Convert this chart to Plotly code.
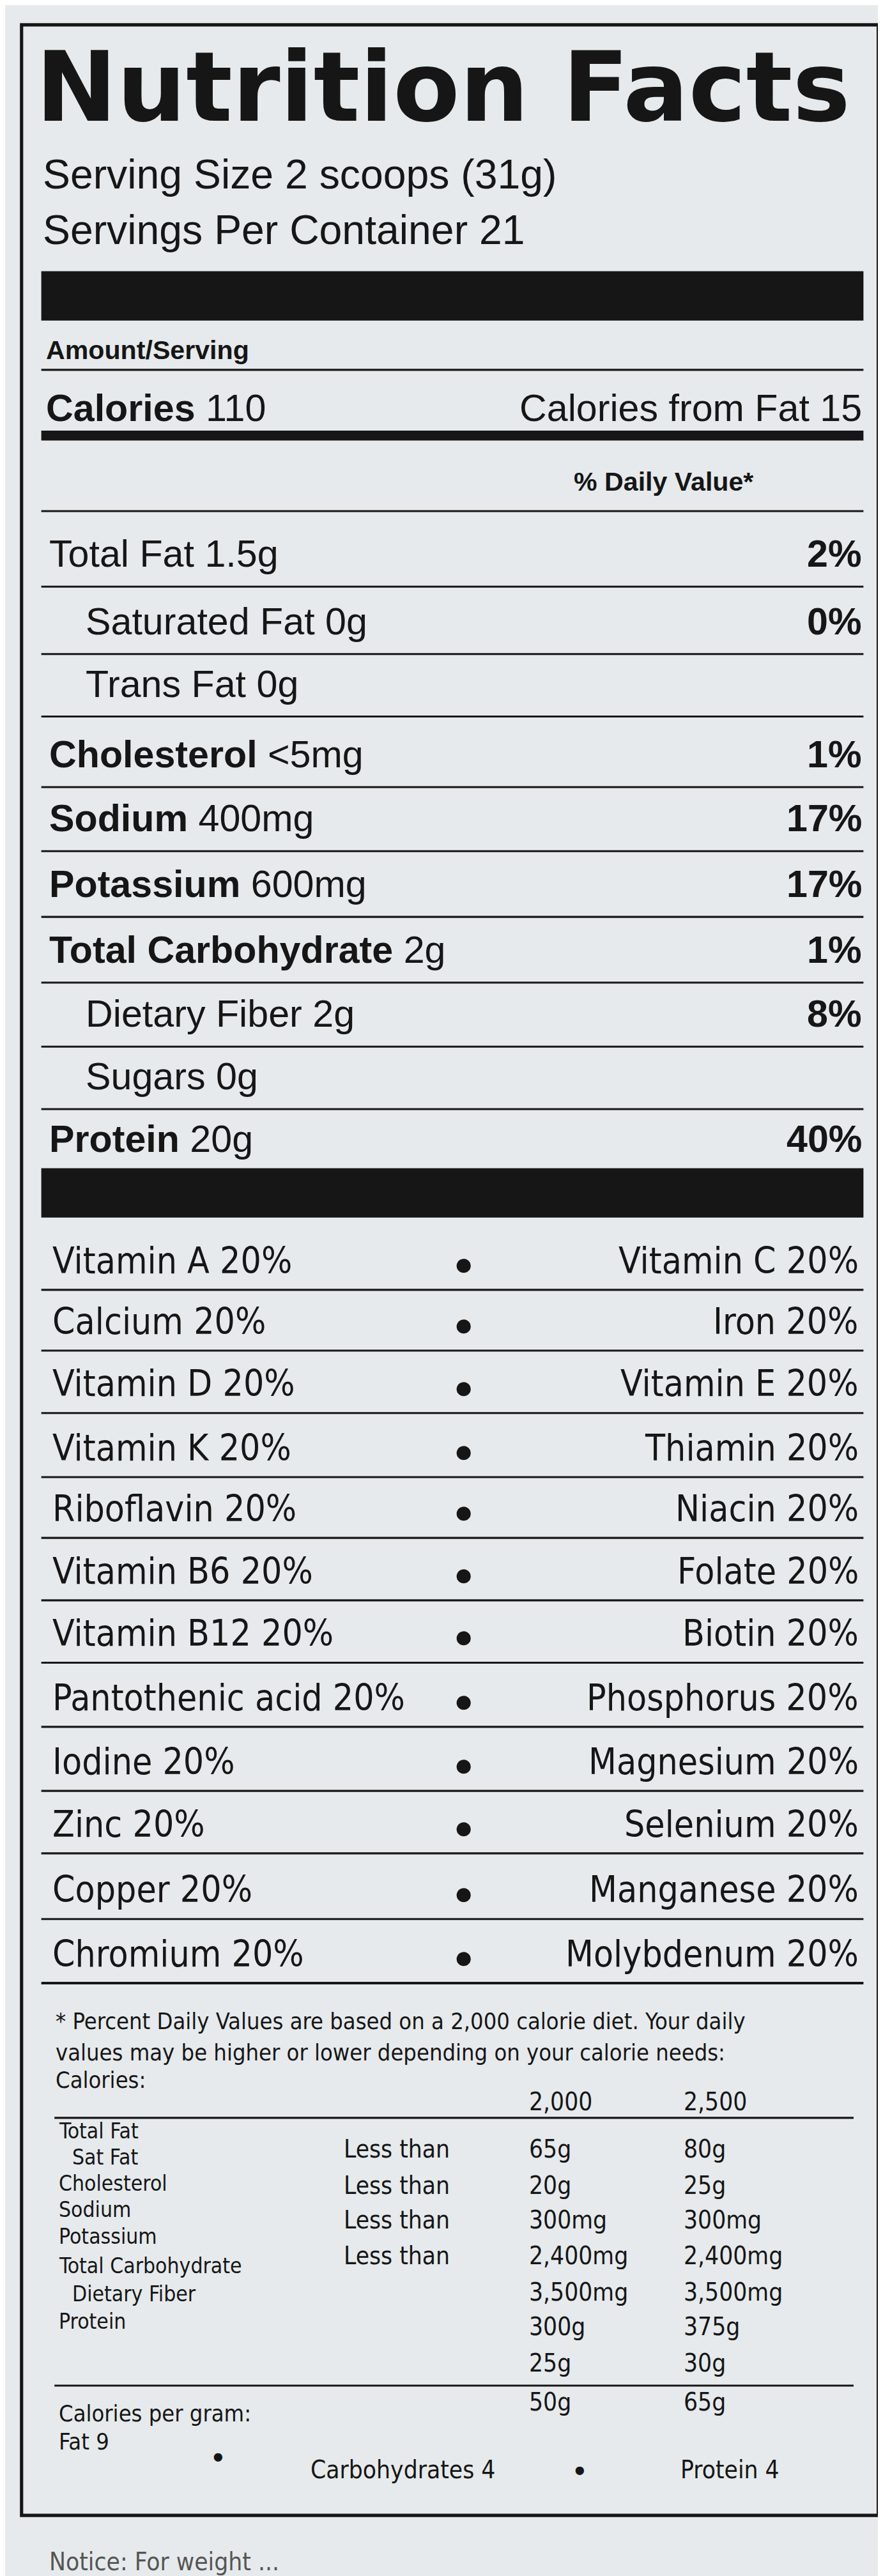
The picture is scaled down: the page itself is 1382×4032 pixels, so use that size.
import plotly.graph_objects as go

# work in the coordinates of a 537 x 1568 picture, scaled up to 1382 x 4032
W, H = 537, 1568
S = 1382 / W

serving_lines = ["Serving Size 2 scoops (31g)", "Servings Per Container 21"]

nutrients = ["Total Fat", "Saturated Fat", "Trans Fat", "Cholesterol", "Sodium",
             "Potassium", "Total Carbohydrate", "Dietary Fiber", "Sugars", "Protein"]
amounts = ["1.5g", "0g", "0g", "<5mg", "400mg", "600mg", "2g", "2g", "0g", "20g"]
daily_pct = ["2%", "0%", "", "1%", "17%", "17%", "1%", "8%", "", "40%"]
bold_nutrient = [False, False, False, True, True, True, True, False, False, True]
indented = [False, True, True, False, False, False, False, True, True, False]

vit_left = ["Vitamin A 20%", "Calcium 20%", "Vitamin D 20%", "Vitamin K 20%", "Riboflavin 20%",
            "Vitamin B6 20%", "Vitamin B12 20%", "Pantothenic acid 20%", "Iodine 20%",
            "Zinc 20%", "Copper 20%", "Chromium 20%"]
vit_right = ["Vitamin C 20%", "Iron 20%", "Vitamin E 20%", "Thiamin 20%", "Niacin 20%",
             "Folate 20%", "Biotin 20%", "Phosphorus 20%", "Magnesium 20%",
             "Selenium 20%", "Manganese 20%", "Molybdenum 20%"]

foot_labels = ["Total Fat", "Sat Fat", "Cholesterol", "Sodium", "Potassium",
               "Total Carbohydrate", "Dietary Fiber", "Protein"]
foot_less = ["Less than", "Less than", "Less than", "Less than"]
col_2000 = ["65g", "20g", "300mg", "2,400mg", "3,500mg", "300g", "25g", "50g"]
col_2500 = ["80g", "25g", "300mg", "2,400mg", "3,500mg", "375g", "30g", "65g"]

INK = "#161616"
FONT = "Liberation Sans"
NARROW = "DejaVu Sans Condensed, Liberation Sans"

fig = go.Figure()
ann = []
shapes = []


def text(x, y, s, size, anchor="left", bold=False, family=FONT, color=INK):
    if bold:
        s = "<b>" + s + "</b>"
    ann.append(dict(x=x, y=y, xref="x", yref="y", text=s, showarrow=False,
                    xanchor=anchor, yanchor="middle",
                    font=dict(size=size * S, family=family, color=color)))


def hline(y, w=1.2, x0=22, x1=522):
    shapes.append(dict(type="line", xref="x", yref="y", x0=x0, x1=x1, y0=y, y1=y,
                       line=dict(color=INK, width=w * S)))


def bar(y0, y1, x0=22, x1=522):
    shapes.append(dict(type="rect", xref="x", yref="y", x0=x0, x1=x1, y0=y0, y1=y1,
                       fillcolor=INK, line=dict(width=0)))


# outer frame
shapes.append(dict(type="rect", xref="x", yref="y", x0=10, x1=531, y0=12, y1=1528,
                   line=dict(color=INK, width=2 * S), fillcolor="rgba(0,0,0,0)"))

text(18, 50, "Nutrition Facts", 59, bold=True, family="DejaVu Sans")
text(22, 103, serving_lines[0], 25)
text(22, 137, serving_lines[1], 25)
bar(162, 192)
text(24, 210, "Amount/Serving", 16, bold=True)
hline(222)
text(24, 245, "<b>Calories</b> 110", 23)
text(522, 245, "Calories from Fat 15", 23, anchor="right")
bar(259, 265)
text(345, 290, "&#37; Daily Value*", 16, bold=True)
hline(308)

row_y = [334, 375, 413, 456, 495, 535, 575, 614, 652, 690]
for i, name in enumerate(nutrients):
    x = 48 if indented[i] else 26
    label = ("<b>%s</b>" % name) if bold_nutrient[i] else name
    text(x, row_y[i], label + " " + amounts[i], 23)
    if daily_pct[i]:
        text(522, row_y[i], daily_pct[i], 23, anchor="right", bold=True)
    if i < len(nutrients) - 1:
        hline(row_y[i] + 20)

bar(708, 738)

vit_y = [764, 801, 839, 878, 915, 953, 991, 1030, 1069, 1107, 1147, 1186]
for i in range(len(vit_left)):
    text(28, vit_y[i], vit_left[i], 22, family=NARROW)
    text(520, vit_y[i], vit_right[i], 22, anchor="right", family=NARROW)
    text(272, vit_y[i] + 2, "●", 20)
    hline(vit_y[i] + 18, w=1.5 if i == len(vit_left) - 1 else 1.2)

text(30, 1227, "* Percent Daily Values are based on a 2,000 calorie diet. Your daily", 14, family=NARROW)
text(30, 1246, "values may be higher or lower depending on your calorie needs:", 14, family=NARROW)
text(30, 1263, "Calories:", 14, family=NARROW)
text(318, 1276, "2,000", 15, family=NARROW)
text(412, 1276, "2,500", 15, family=NARROW)
hline(1286, x0=30, x1=516)

lab_y = [1294, 1310, 1326, 1342, 1358, 1376, 1393, 1410]
for i, lab in enumerate(foot_labels):
    x = 40 if lab in ("Sat Fat", "Dietary Fiber") else 32
    text(x, lab_y[i], lab, 13, family=NARROW)
val_y = [1305, 1327, 1348, 1370, 1392, 1413, 1435, 1459]
for i, s in enumerate(foot_less):
    text(205, val_y[i], s, 15, family=NARROW)
for i in range(len(col_2000)):
    text(318, val_y[i], col_2000[i], 15, family=NARROW)
    text(412, val_y[i], col_2500[i], 15, family=NARROW)
hline(1449, x0=30, x1=516)
text(32, 1466, "Calories per gram:", 14, family=NARROW)
text(32, 1483, "Fat 9", 14, family=NARROW)
text(125, 1492, "●", 12)
text(185, 1500, "Carbohydrates 4", 15, family=NARROW)
text(345, 1500, "●", 12)
text(410, 1500, "Protein 4", 15, family=NARROW)
text(26, 1556, "Notice: For weight ...", 15, family=NARROW, color="#555")

fig.update_layout(
    width=1382, height=4032,
    margin=dict(l=0, r=0, t=0, b=0),
    paper_bgcolor="#dfe4e6", plot_bgcolor="#e6eaec",
    xaxis=dict(range=[0, W], visible=False, fixedrange=True),
    yaxis=dict(range=[H, 0], visible=False, fixedrange=True),
    annotations=ann, shapes=shapes, showlegend=False,
)
fig.write_html("out.html")
